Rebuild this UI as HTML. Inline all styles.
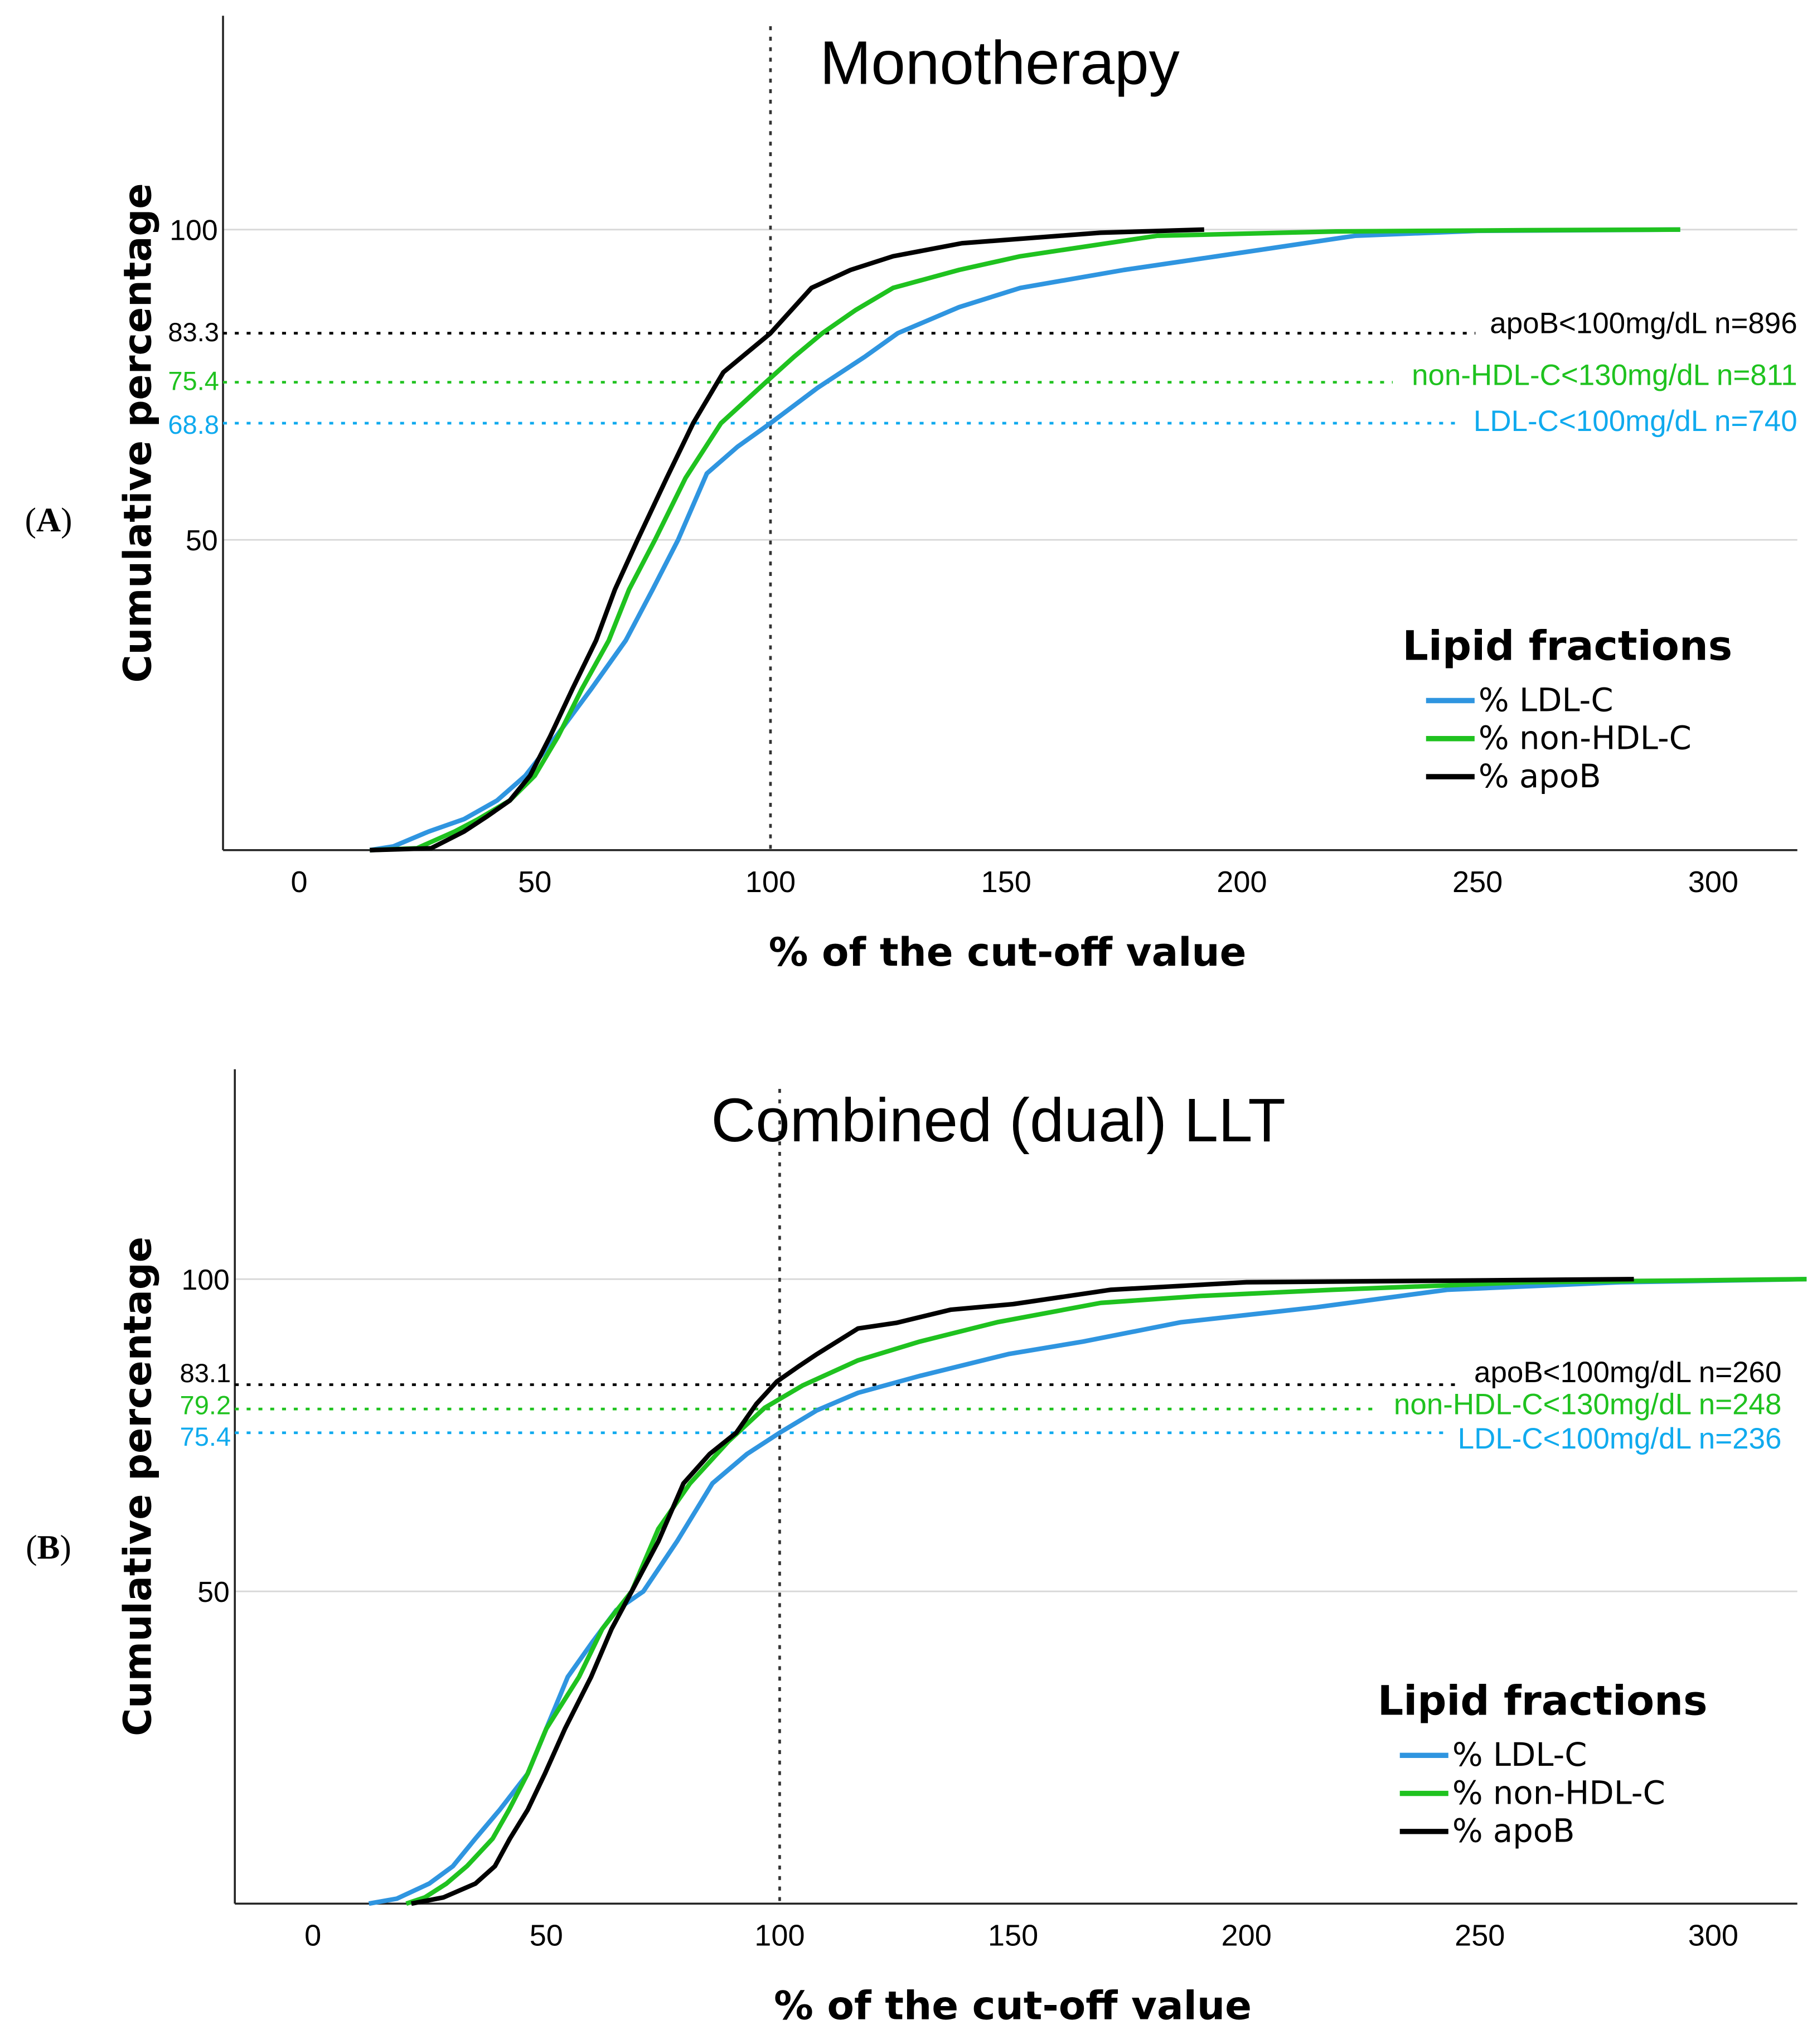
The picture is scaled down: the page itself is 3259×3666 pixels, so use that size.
<!DOCTYPE html>
<html><head><meta charset="utf-8"><style>
html,body{margin:0;padding:0;background:#fff;}
svg{display:block;font-family:"Liberation Sans","DejaVu Sans",sans-serif;}
</style></head><body>
<svg id="chart" width="3259" height="3666" viewBox="0 0 1385 1558" preserveAspectRatio="none" xmlns="http://www.w3.org/2000/svg"></svg>
<script>
const xTicks=[0,50,100,150,200,250,300];
const yTicks=[50,100];
const seriesNames=["%  LDL-C","% non-HDL-C","% apoB"];
const seriesColors=["#2f95e0","#1fc21f","#000"];
const A_ldl_x=[15,20,27.5,35,42,48,54.6,62,69.3,75,80.4,86.5,93,100,110,120,127,140,153,175,194.7,224,250,293];
const A_ldl_y=[0,0.6,3,5,8,12,18.4,26,33.8,42,50,60.7,65,68.8,74.5,79.5,83.3,87.5,90.6,93.5,95.7,99,99.8,100];
const A_non_x=[15,25,33,38,44.7,50,55,60,65.7,70,75.5,82,89.5,99,105,111,118,126,140,153,182,220,260,293];
const A_non_y=[0,0.3,3,5,8,12,18.4,26,33.8,42,50,60,68.8,75.4,79.5,83.3,87,90.6,93.5,95.7,99,99.7,99.9,100];
const A_apo_x=[15,28,35,40,44.7,49,53.3,58,63,67,71.8,78,83.6,90,100,108.7,117,126,140.6,170,192];
const A_apo_y=[0,0.3,3,5.5,8,12,18.4,26,33.8,42,50,60,68.8,77,83.3,90.6,93.5,95.7,97.8,99.5,100];
const B_ldl_x=[12,18,24.9,30,34.8,40,46,50,54.6,60,65,70.8,78,85.6,93,100,108,116.8,130,149,165,186,215,243,280,320];
const B_ldl_y=[0,0.8,3.2,6,10.4,15,20.8,28,36.3,42,47,50,58,67.3,72,75.4,79,81.8,84.5,88,90,93.1,95.5,98.3,99.5,100];
const B_non_x=[20,24,28.6,33,38.5,42,46,50,57,62,68.3,74,80.8,89,96.8,105,116.8,130,146.6,168.8,190,218.6,260,320];
const B_non_y=[0,1,3.2,6,10.4,15,20.8,28,36.3,44,50,60,67.3,74,79.4,83,87,90,93.1,96.2,97.3,98.3,99.5,100];
const B_apo_x=[21.1,28,34.8,39,42.2,46,49.7,54,59.6,64,68.3,74,79.4,85,90.7,95,99.4,104,108,116.8,125,136.6,150,171,200,283];
const B_apo_y=[0,1,3.2,6,10.4,15,20.8,28,36.3,44,50,58,67.3,72,75.4,80,83.6,86,88,92.1,93,95.1,96,98.3,99.5,100];
const A_refs=[83.3,75.4,68.8];
const B_refs=[83.1,79.2,75.4];
const A_refLabels=["apoB<100mg/dL n=896","non-HDL-C<130mg/dL n=811","LDL-C<100mg/dL n=740"];
const B_refLabels=["apoB<100mg/dL n=260","non-HDL-C<130mg/dL n=248","LDL-C<100mg/dL n=236"];
const refColors=["#000","#1fc21f","#10aaee"];

const NS="http://www.w3.org/2000/svg";
const svg=document.getElementById('chart');
function mk(tag,attrs,parent,text){const e=document.createElementNS(NS,tag);for(const k in attrs)e.setAttribute(k,attrs[k]);if(text!==undefined)e.textContent=text;(parent||svg).appendChild(e);return e;}

function panel(cfg){
  const g=mk('g',{});
  
  
  const sx=v=>cfg.x0+v*cfg.kx, sy=v=>cfg.y0-v*cfg.ky;
  yTicks.forEach(t=>{const l=mk('line',{x1:cfg.left,x2:cfg.right,y1:sy(t),y2:sy(t),stroke:'#d8d8d8','stroke-width':1.2},g);
    
    const tx=mk('text',{x:cfg.left-4,y:sy(t)+8,'text-anchor':'end','font-size':22,fill:'#000'},g,String(t));
    });
  const ya=mk('line',{x1:cfg.left,x2:cfg.left,y1:cfg.top,y2:cfg.y0,stroke:'#222','stroke-width':1.5},g);
  
  const xa=mk('line',{x1:cfg.left,x2:cfg.right,y1:cfg.y0,y2:cfg.y0,stroke:'#222','stroke-width':1.5},g);
  
  xTicks.forEach(t=>{const tx=mk('text',{x:sx(t),y:cfg.y0+32,'text-anchor':'middle','font-size':23,fill:'#000'},g,String(t));
    });
  const v=mk('line',{x1:sx(100),x2:sx(100),y1:cfg.vTop,y2:cfg.y0,stroke:'#333','stroke-width':2,'stroke-dasharray':'3,5'},g);
  
  cfg.refs.forEach((r,i)=>{
    const lbl=cfg.refLabels[i];
    const txtX=cfg.refTextX;
    const estW=lbl.length*12.6;
    const l=mk('line',{x1:cfg.left,x2:txtX-estW-6,y1:sy(r),y2:sy(r),stroke:refColors[i],'stroke-width':2,'stroke-dasharray':'3,6'},g);
    
    const t=mk('text',{x:txtX,y:sy(r)+cfg.refDy[i],'text-anchor':'end','font-size':22.5,fill:refColors[i]},g,lbl);
    
    const tv=mk('text',{x:cfg.left-3,y:sy(r)+cfg.valDy[i],'text-anchor':'end','font-size':20,fill:refColors[i]},g,String(r));
    
  });
  cfg.series.forEach((s,i)=>{
    const pts=s[0].map((x,j)=>sx(x)+','+sy(s[1][j])).join(' ');
    const p=mk('polyline',{points:pts,fill:'none',stroke:seriesColors[i],'stroke-width':3.5,'stroke-linejoin':'round'},g);
    
  });
  const ti=mk('text',{x:cfg.titleX,y:cfg.titleY,'text-anchor':'middle','font-size':cfg.titleSize,fill:'#000'},g,cfg.title);
  
  const xt=mk('text',{x:cfg.xtX,y:cfg.xtY,'text-anchor':'middle','font-size':30,'font-weight':'bold',fill:'#000','font-family':'DejaVu Sans, sans-serif'},g,'% of the cut-off value');
  
  const yt=mk('text',{x:0,y:0,transform:`translate(115,${cfg.ytY}) rotate(-90)`,'text-anchor':'middle','font-size':29,'font-weight':'bold',fill:'#000','font-family':'DejaVu Sans, sans-serif'},g,'Cumulative percentage');
  
  const pl=mk('text',{x:37,y:cfg.letterY,'text-anchor':'middle','font-size':26,'font-family':'Liberation Serif, serif',fill:'#000'},g);
  
  mk('tspan',{},pl,'(');mk('tspan',{'font-weight':'bold'},pl,cfg.letter);mk('tspan',{},pl,')');
  const lg=mk('g',{},g);
  
  const lt=mk('text',{x:cfg.legX,y:cfg.legY,'font-size':31,'font-weight':'bold',fill:'#000','font-family':'DejaVu Sans, sans-serif'},lg,'Lipid fractions');
  
  seriesNames.forEach((n,i)=>{
    const yy=cfg.legY+31+i*29;
    const ln=mk('line',{x1:cfg.swX,x2:cfg.swX+37,y1:yy,y2:yy,stroke:seriesColors[i],'stroke-width':4},lg);
    
    const t=mk('text',{x:cfg.swX+40,y:yy+8,'font-size':24.5,fill:'#000','font-family':'DejaVu Sans, sans-serif'},lg,n);
    
  });
}
panel({name:'panel-a',letter:'A',letterY:405,left:170,right:1370,top:12,vTop:20,x0:228,kx:3.593,y0:648,ky:4.73,title:'Monotherapy',titleX:762,titleY:64,titleSize:47,
  refs:A_refs,refLabels:A_refLabels,refTextX:1370,refDy:[0,2,6],valDy:[6,6,8],legX:1069,legY:503,swX:1087,
  xtX:768,xtY:736,ytY:330,
  series:[[A_ldl_x,A_ldl_y],[A_non_x,A_non_y],[A_apo_x,A_apo_y]]});
panel({name:'panel-b',letter:'B',letterY:1188,left:179,right:1370,top:815,vTop:830,x0:238.5,kx:3.558,y0:1451,ky:4.76,title:'Combined (dual) LLT',titleX:761,titleY:870,titleSize:47,
  refs:B_refs,refLabels:B_refLabels,refTextX:1358,refDy:[-2,4,12],valDy:[-2,4,10],legX:1050,legY:1307,swX:1067,
  xtX:772,xtY:1539,ytY:1133,
  series:[[B_ldl_x,B_ldl_y],[B_non_x,B_non_y],[B_apo_x,B_apo_y]]});
</script>
</body></html>
